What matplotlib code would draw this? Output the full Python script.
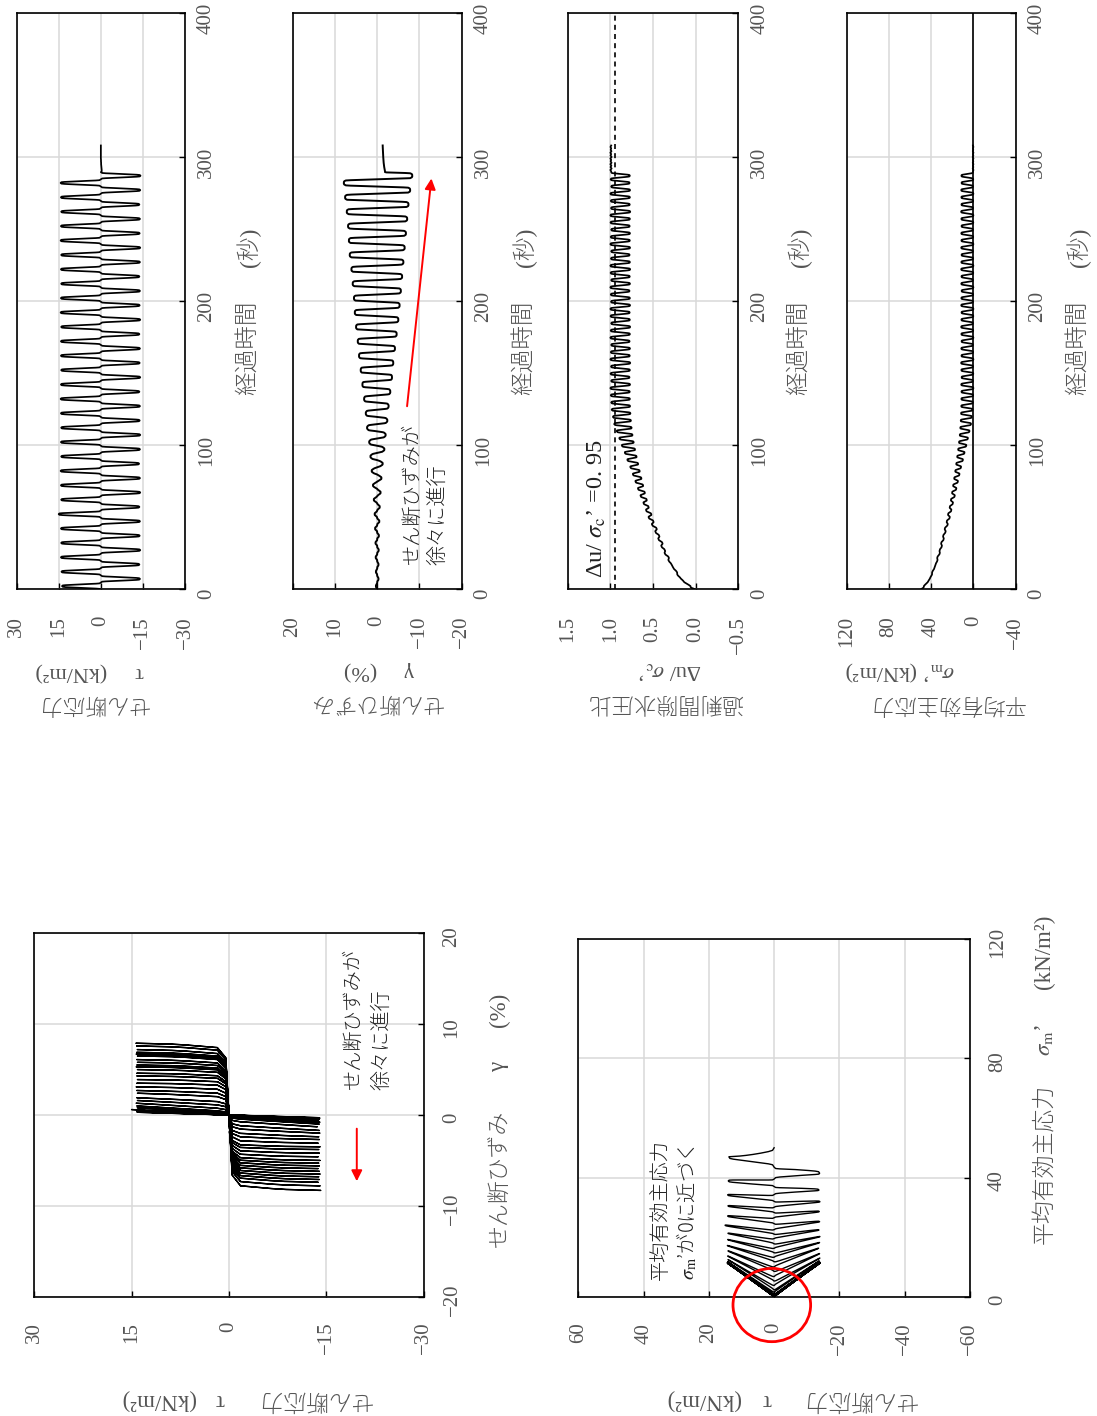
import numpy as np
import matplotlib
matplotlib.use('Agg')
import matplotlib.pyplot as plt
from matplotlib.patches import Ellipse
from matplotlib.transforms import blended_transform_factory, offset_copy

W, H = 1097, 1416
plt.rcParams['mathtext.fontset'] = 'stix'
SERIF = ['Liberation Serif', 'Noto Sans CJK JP']
CJK = ['Noto Sans CJK JP', 'Liberation Serif']
LABEL_C = '#555555'
TEXT_C = '#222222'
GRID_C = '#d9d9d9'

# ---- values ----
# stress peaks every 5 s (positive / negative alternately), 29 cycles
PEAK_T = np.arange(2, 288, 5)
TAU_POS = [13.9, 14.1, 14.3, 14.2, 14.3, 15.1, 14.2, 14.3, 14.4, 14.2, 14.3, 14.2, 14.3, 14.4, 14.3,
           14.2, 14.3, 14.3, 14.2, 14.4, 14.3, 14.2, 14.3, 14.2, 14.4, 14.3, 14.2, 14.3, 14.4]
TAU_NEG = [-14.0, -13.8, -14.1, -13.9, -14.0, -13.8, -14.1, -14.0, -13.7, -14.0, -14.1, -13.9, -14.0, -13.8,
           -14.1, -13.9, -14.0, -13.8, -14.1, -13.9, -14.0, -13.8, -14.0, -14.1, -13.9, -14.0, -13.8, -14.1, -14.2]
# shear strain amplitude per cycle (%)
GAM_POS = [0.3, 0.3, 0.35, 0.4, 0.5, 0.6, 0.8, 1.0, 1.3, 1.6, 1.9, 2.4, 2.7, 3.1, 3.5,
           3.9, 4.3, 4.6, 5.0, 5.3, 5.5, 5.8, 6.1, 6.5, 6.7, 6.9, 7.2, 7.6, 7.9]
GAM_NEG = [-0.3, -0.3, -0.35, -0.4, -0.5, -0.6, -0.8, -1.0, -1.3, -1.7, -2.0, -2.4, -2.7, -3.1, -3.5,
           -3.8, -4.2, -4.6, -5.0, -5.3, -5.6, -5.9, -6.2, -6.5, -6.8, -7.1, -7.4, -7.8, -8.3]
# how much each cycle's strain follows the "liquefied" square shape (0 = follows stress)
LIQ = [0, 0, 0, 0, 0.05, 0.15, 0.25, 0.4, 0.55, 0.7, 0.8, 0.88, 0.94, 0.97, 1,
       1, 1, 1, 1, 1, 1, 1, 1, 1, 1, 1, 1, 1, 1]
# shape of one half cycle, seconds from the peak, as traced in the records
SHAPE_T = [-2.5, -1.8, -1.2, -0.6, 0.0, 0.6, 1.2, 1.8, 2.5]
STRESS_SHAPE = [0.0, 0.04, 0.55, 0.97, 1.0, 0.97, 0.55, 0.04, 0.0]
STRAIN_SHAPE = [0.0, 0.93, 0.985, 1.0, 1.0, 1.0, 0.985, 0.93, 0.0]
# excess pore pressure ratio at each stress peak
RU_PEAK = [0.060, 0.172, 0.222, 0.284, 0.316, 0.362, 0.390, 0.428, 0.458, 0.496,
           0.520, 0.552, 0.574, 0.596, 0.616, 0.636, 0.656, 0.674, 0.692, 0.710,
           0.726, 0.740, 0.750, 0.758, 0.764, 0.768, 0.770, 0.772, 0.768, 0.775,
           0.770, 0.766, 0.772, 0.769, 0.774, 0.770, 0.767, 0.771, 0.773, 0.768,
           0.770, 0.775, 0.769, 0.772, 0.767, 0.770, 0.774, 0.768, 0.771, 0.769,
           0.773, 0.770, 0.766, 0.772, 0.770, 0.768, 0.774, 0.771]
# excess pore pressure ratio at each stress zero crossing (-0.5 s, 4.5 s, ...)
RU_ZERO = [0.0, 0.13, 0.21, 0.26, 0.315, 0.36, 0.40, 0.435, 0.47, 0.51,
           0.55, 0.58, 0.61, 0.645, 0.675, 0.705, 0.735, 0.765, 0.80, 0.83,
           0.865, 0.895, 0.925, 0.955, 0.97, 0.985, 0.99, 0.995, 1.0, 0.99,
           0.998, 0.992, 1.0, 0.995, 0.99, 1.0, 0.996, 0.99, 0.998, 1.0,
           0.992, 0.995, 1.0, 0.99, 0.997, 1.0, 0.993, 0.99, 1.0, 0.996,
           0.99, 0.998, 1.0, 0.992, 0.995, 1.0, 0.99, 0.997, 0.99]
SIGMA0 = 50.0  # initial mean effective stress (kN/m2)
# after loading stopped
TAIL_T = [290, 291, 292, 293, 294, 295, 296, 297, 298, 299, 300, 301, 302, 303, 304, 305, 306, 307, 308]
TAIL_TAU = [-0.3, -0.3, -0.25, -0.2, -0.15, -0.1, -0.1, -0.05, -0.05, 0, 0, 0, 0, 0, 0, 0, 0, 0, 0]
TAIL_GAM = [-1.85, -1.78, -1.72, -1.66, -1.61, -1.57, -1.53, -1.5, -1.47, -1.45, -1.43, -1.41, -1.39,
            -1.37, -1.35, -1.34, -1.32, -1.31, -1.3]
TAIL_RU = [0.99, 1.0, 0.985, 0.998, 0.988, 1.0, 0.986, 0.997, 0.99, 1.0, 0.985, 0.998, 0.99, 1.0,
           0.987, 0.996, 0.99, 0.999, 0.99]


def build_series():
    tau_pk = np.ravel(np.column_stack([TAU_POS, TAU_NEG]))
    gam_pk = np.ravel(np.column_stack([GAM_POS, GAM_NEG]))
    liq = np.repeat(LIQ, 2)
    z_t = np.append(PEAK_T - 2.5, PEAK_T[-1] + 2.5)
    ts, taus, gams, rus = [], [], [], []
    for j, tp in enumerate(PEAK_T):
        last = j == len(PEAK_T) - 1
        t = np.linspace(tp - 2.5, tp + 2.5, 26)
        if not last:
            t = t[:-1]
        s = np.interp(t - tp, SHAPE_T, STRESS_SHAPE)
        g = np.interp(t - tp, SHAPE_T, STRAIN_SHAPE)
        tau = tau_pk[j] * s
        gam = gam_pk[j] * ((1 - liq[j]) * s + liq[j] * g)
        if last:
            gam = np.where(t > tp, np.minimum(gam, TAIL_GAM[0]), gam)
        z = np.interp(t, z_t, RU_ZERO)
        p = np.interp(t, PEAK_T, RU_PEAK)
        ru = z - (z - p) * s
        ts.append(t); taus.append(tau); gams.append(gam); rus.append(ru)
    ts.append(np.array(TAIL_T, float)); taus.append(np.array(TAIL_TAU))
    gams.append(np.array(TAIL_GAM)); rus.append(np.array(TAIL_RU))
    t = np.concatenate(ts)
    ru = np.concatenate(rus)
    return t, np.concatenate(taus), np.concatenate(gams), ru, SIGMA0 * (1 - ru)


fig = plt.figure(figsize=(W / 100, H / 100), dpi=100)


def add_ax(x0, y0, x1, y1):
    return fig.add_axes([x0 / W, 1 - y1 / H, (x1 - x0) / W, (y1 - y0) / H])


def ftext(x, y, s, rot=0, size=16, color=LABEL_C, family=SERIF, ha='center', va='center',
          weight='light'):
    fig.text(x / W, 1 - y / H, s, rotation=rot, fontsize=size, color=color,
             family=family, ha=ha, va=va, weight=weight)


def fmt(v):
    s = f"{v:g}" if not isinstance(v, str) else v
    return s.replace('-', '\u2212')


def style_ax(ax, xlim, ylim, xticks, yticks, xlabels, ylabels, xpad, ypad, yoff):
    ax.set_xlim(*xlim)
    ax.set_ylim(*ylim)
    ax.set_xticks(xticks)
    ax.set_yticks(yticks)
    ax.grid(True, color=GRID_C, lw=1.1)
    ax.set_axisbelow(True)
    for sp in ax.spines.values():
        sp.set_linewidth(1.2)
        sp.set_color('black')
    ax.tick_params(axis='x', bottom=True, top=False, direction='in', length=4, width=1,
                   labelbottom=False)
    ax.tick_params(axis='y', left=False, right=True, direction='in', length=4, width=1,
                   labelleft=False, labelright=False)
    tx = offset_copy(blended_transform_factory(ax.transData, ax.transAxes), fig=fig,
                     y=-xpad, units='dots')
    for v, lab in zip(xticks, xlabels):
        ax.text(v, 0, lab, transform=tx, rotation=90, ha='center', va='top',
                fontsize=15, color=LABEL_C, family=SERIF)
    ty = offset_copy(blended_transform_factory(ax.transAxes, ax.transData), fig=fig,
                     x=ypad, y=-yoff, units='dots')
    for v, lab in zip(yticks, ylabels):
        ax.text(1, v, lab, transform=ty, rotation=90, ha='left', va='center',
                fontsize=15, color=LABEL_C, family=SERIF)


t, tau, gam, ru, sig = build_series()
TIME_TICKS = [0, 100, 200, 300, 400]
TIME_LABELS = ['0', '100', '200', '300', '400']
LEFTS = [16.7, 292.7, 567.7, 846.7]
TOP, BOT = 13, 589

# ---- time histories ----
ax1 = add_ax(LEFTS[0], TOP, 185, BOT)
style_ax(ax1, (30, -30), (0, 400), [30, 15, 0, -15, -30], TIME_TICKS,
         [fmt(v) for v in [30, 15, 0, -15, -30]], TIME_LABELS, 27, 12, 5)
ax1.plot(tau, t, color='black', lw=1.25)

ax2 = add_ax(LEFTS[1], TOP, 461.7, BOT)
style_ax(ax2, (20, -20), (0, 400), [20, 10, 0, -10, -20], TIME_TICKS,
         [fmt(v) for v in [20, 10, 0, -10, -20]], TIME_LABELS, 27, 12, 5)
ax2.plot(gam, t, color='black', lw=1.4)
ax2.annotate('', xy=(-12.9, 287), xytext=(-7.0, 125),
             arrowprops=dict(arrowstyle='-|>', color='red', lw=1.4, mutation_scale=16))

ax3 = add_ax(LEFTS[2], TOP, 738.3, BOT)
style_ax(ax3, (1.5, -0.5), (0, 400), [1.5, 1.0, 0.5, 0.0, -0.5], TIME_TICKS,
         ['1.5', '1.0', '0.5', '0.0', fmt('-0.5')], TIME_LABELS, 27, 12, 5)
ax3.axvline(0.95, color='black', lw=1.2, ls=(0, (3, 2.5)))
ax3.plot(ru, t, color='black', lw=1.25)

ax4 = add_ax(LEFTS[3], TOP, 1015.7, BOT)
style_ax(ax4, (120, -40), (0, 400), [120, 80, 40, 0, -40], TIME_TICKS,
         [fmt(v) for v in [120, 80, 40, 0, -40]], TIME_LABELS, 27, 12, 5)
ax4.axvline(0, color='black', lw=1.2)
ax4.plot(sig, t, color='black', lw=1.25)

for L in LEFTS:
    ftext(L + 232, 348, '経過時間', rot=90, size=17, family=CJK)
    ftext(L + 232, 247, '(秒)', rot=90, size=17)

ftext(93, 702, 'せん断応力', rot=180, family=CJK)
ftext(90, 671, 'τ\u3000 (kN/m²)', rot=180)
ftext(376, 702, 'せん断ひずみ', rot=180, family=CJK)
ftext(379, 671, 'γ\u3000 (%)', rot=180)
ftext(665, 702, '過剰間隙水圧比', rot=180, family=CJK)
ftext(670, 671, r'Δu/ $\sigma_\mathrm{c}$’', rot=180, family='Liberation Serif', weight='normal')
ftext(947, 702, '平均有効主応力', rot=180, family=CJK)
ftext(900, 671, r'$\sigma_\mathrm{m}$’ (kN/m²)', rot=180, family='Liberation Serif', weight='normal')

ftext(412, 565, 'せん断ひずみが', rot=90, size=14.5, color=TEXT_C, family=CJK, va='bottom')
ftext(438, 565, '徐々に進行', rot=90, size=14.5, color=TEXT_C, family=CJK, va='bottom')
ftext(597, 578, r'Δu/ $\sigma_\mathrm{c}$’ =0. 95', rot=90, size=17.5, color=TEXT_C,
      family='Liberation Serif', va='bottom', weight='normal')

# ---- stress-strain loops ----
ax5 = add_ax(34.4, 933.3, 423.6, 1296.7)
style_ax(ax5, (30, -30), (-20, 20), [30, 15, 0, -15, -30], [-20, -10, 0, 10, 20],
         [fmt(v) for v in [30, 15, 0, -15, -30]], [fmt(v) for v in [-20, -10, 0, 10, 20]],
         25, 19, 3)
ax5.plot(tau, gam, color='black', lw=1.0)
ax5.annotate('', xy=(-19.7, -7.6), xytext=(-19.7, -1.2),
             arrowprops=dict(arrowstyle='-|>', color='red', lw=1.4, mutation_scale=16))
ftext(353, 1090, 'せん断ひずみが', rot=90, size=14.5, color=TEXT_C, family=CJK, va='bottom')
ftext(382, 1090, '徐々に進行', rot=90, size=14.5, color=TEXT_C, family=CJK, va='bottom')
ftext(499, 1178, 'せん断ひずみ', rot=90, size=16.5, family=CJK)
ftext(499, 1067, 'γ', rot=90, size=16.5)
ftext(499, 1010, '(%)', rot=90, size=16.5)
ftext(315, 1400, 'せん断応力', rot=180, size=16.5, family=CJK)
ftext(220, 1400, 'τ', rot=180, size=16.5)
ftext(158, 1400, '(kN/m²)', rot=180, size=16.5)

# ---- effective stress path ----
ax6 = add_ax(578.4, 939.3, 969.8, 1296.7)
style_ax(ax6, (60, -60), (0, 120), [60, 40, 20, 0, -20, -40, -60], [0, 40, 80, 120],
         [fmt(v) for v in [60, 40, 20, 0, -20, -40, -60]], ['0', '40', '80', '120'],
         26, 18, 3)
ax6.plot(tau, sig, color='black', lw=1.0)
ax6.add_patch(Ellipse((0.7, -2.8), 23.8, 24.6, fill=False, ec='red', lw=2.0,
                      clip_on=False, zorder=5))
ftext(661, 1280, '平均有効主応力', rot=90, size=14.5, color=TEXT_C, family=CJK, va='bottom')
ftext(687, 1280, r'$\sigma_\mathrm{m}$’が0に近づく', rot=90, size=14.5, color=TEXT_C,
      family='Noto Sans CJK JP', va='bottom')
ftext(1044, 1164, '平均有効主応力', rot=90, size=16.5, family=CJK)
ftext(1044, 1040, r'$\sigma_\mathrm{m}$’', rot=90, size=16.5, family='Liberation Serif',
      weight='normal')
ftext(1044, 952, '(kN/m²)', rot=90, size=16.5)
ftext(860, 1400, 'せん断応力', rot=180, size=16.5, family=CJK)
ftext(767, 1400, 'τ', rot=180, size=16.5)
ftext(703, 1400, '(kN/m²)', rot=180, size=16.5)

fig.savefig('out.png', dpi=100)
